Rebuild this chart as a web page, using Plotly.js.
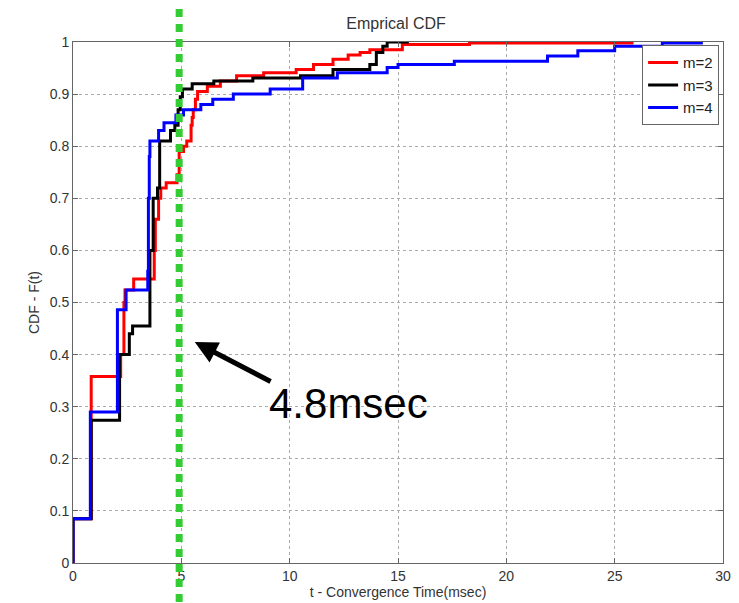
<!DOCTYPE html>
<html>
<head>
<meta charset="utf-8">
<script src="https://cdn.plot.ly/plotly-3.0.1.min.js"></script>
<style>html,body{margin:0;padding:0;background:#fff;}#chart{width:739px;height:603px;}</style>
</head>
<body>
<div id="chart"></div>
<script>
// m=2 (red) empirical CDF steps
const tM2 = [0, 0, 0.84, 2.2, 2.35, 2.4, 2.8, 3.75, 3.8, 3.95, 4.05, 4.3, 4.8, 4.9, 5.1, 5.25, 5.45, 5.5, 5.55, 5.65, 5.75, 6.2, 6.8, 7.55, 8.8, 10.3, 11.1, 12.0, 12.7, 13.25, 13.7, 15.2, 18.3, 25.8];
const fM2 = [0, 0.085, 0.358, 0.40, 0.50, 0.524, 0.545, 0.60, 0.66, 0.70, 0.72, 0.73, 0.745, 0.79, 0.80, 0.81, 0.84, 0.855, 0.87, 0.89, 0.905, 0.915, 0.925, 0.935, 0.941, 0.947, 0.957, 0.967, 0.975, 0.98, 0.985, 0.995, 0.998, 1.0];
// m=3 (black)
const tM3 = [0, 0, 0.84, 2.15, 2.6, 2.75, 3.55, 3.7, 3.9, 4.0, 4.5, 4.7, 4.85, 4.95, 5.05, 5.5, 6.5, 8.3, 10.5, 12.0, 13.7, 14.0, 14.3, 14.5, 15.5];
const fM3 = [0, 0.085, 0.274, 0.40, 0.44, 0.455, 0.60, 0.70, 0.72, 0.81, 0.83, 0.84, 0.87, 0.895, 0.91, 0.92, 0.925, 0.931, 0.935, 0.947, 0.957, 0.98, 0.992, 1.0, 1.0];
// m=4 (blue)
const tM4 = [0, 0, 0.8, 2.05, 2.45, 3.45, 3.48, 3.52, 3.55, 3.95, 4.2, 4.75, 5.1, 5.9, 6.45, 7.4, 9.1, 10.6, 12.2, 14.5, 15.0, 17.6, 21.9, 23.3, 25.0, 27.2, 29.0];
const fM4 = [0, 0.085, 0.29, 0.486, 0.524, 0.56, 0.70, 0.78, 0.81, 0.83, 0.845, 0.86, 0.87, 0.88, 0.89, 0.90, 0.91, 0.931, 0.941, 0.951, 0.957, 0.963, 0.973, 0.983, 0.992, 0.998, 1.0];

const seriesNames = ["m=2", "m=3", "m=4"];
const seriesColors = ["#ff0000", "#000000", "#0000ff"];
const markerT = 4.9;            // green dotted marker position
const markerLabel = "4.8msec";
const arrowTip = [5.62, 0.424];
const arrowTail = [9.19, 0.347];
const labelPos = [12.7, 0.307];

const font = "Liberation Sans, Arial, Helvetica, sans-serif";
const data = [[tM2, fM2], [tM3, fM3], [tM4, fM4]].map((s, i) => ({
  x: s[0], y: s[1], type: "scatter", mode: "lines", name: seriesNames[i],
  line: {color: seriesColors[i], width: 3, shape: "hv"}
}));

const axisCommon = {
  showline: true, mirror: "ticks", linecolor: "#666", linewidth: 1,
  ticks: "inside", ticklen: 5, tickcolor: "#666",
  showgrid: true, gridcolor: "#aaa", griddash: "dot", gridwidth: 1,
  zeroline: false, tickfont: {family: font, size: 14, color: "#333"}
};

const layout = {
  width: 739, height: 603,
  margin: {l: 73, r: 16, t: 42, b: 40},
  paper_bgcolor: "#fff", plot_bgcolor: "#fff",
  title: {text: "Emprical CDF", font: {family: font, size: 16, color: "#333"}, x: 0.536, xanchor: "center", y: 0.962, yanchor: "middle"},
  xaxis: Object.assign({}, axisCommon, {range: [0, 30], dtick: 5,
    title: {text: "t - Convergence Time(msec)", font: {family: font, size: 14, color: "#333"}, standoff: 2}}),
  yaxis: Object.assign({}, axisCommon, {range: [0, 1], dtick: 0.1,
    title: {text: "CDF - F(t)", font: {family: font, size: 14, color: "#333"}, standoff: 6}}),
  showlegend: true,
  legend: {x: 0.994, xanchor: "right", y: 0.994, yanchor: "top", bgcolor: "#fff",
    bordercolor: "#666", borderwidth: 1, font: {family: font, size: 15, color: "#222"},
    tracegroupgap: 0},
  shapes: [{type: "line", xref: "x", yref: "paper", x0: markerT, x1: markerT, y0: -0.075, y1: 1.07,
    line: {color: "#33cc33", width: 7, dash: "8px,7px"}}],
  annotations: [
    {x: arrowTip[0], y: arrowTip[1], ax: arrowTail[0], ay: arrowTail[1], axref: "x", ayref: "y",
     xref: "x", yref: "y", text: "", showarrow: true, arrowhead: 2, arrowsize: 0.9, arrowwidth: 5, arrowcolor: "#000"},
    {x: labelPos[0], y: labelPos[1], xref: "x", yref: "y", text: markerLabel, showarrow: false,
     font: {family: font, size: 42, color: "#000"}}
  ]
};

Plotly.newPlot("chart", data, layout, {displayModeBar: false, staticPlot: true});
</script>
</body>
</html>
